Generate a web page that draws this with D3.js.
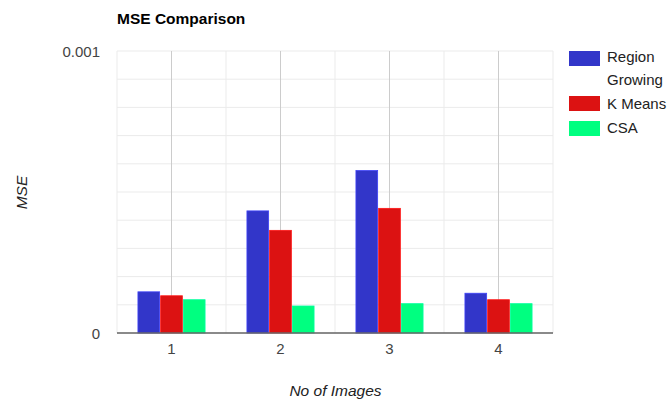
<!DOCTYPE html>
<html><head><meta charset="utf-8">
<script src="https://cdn.jsdelivr.net/npm/d3@7"></script>
<style>body{margin:0;background:#fff;} text{font-family:"Liberation Sans",Arial,sans-serif;}</style>
</head><body>
<svg id="c" width="670" height="401"></svg>
<script>
const categories = ["1","2","3","4"];
const seriesNames = ["Region Growing","K Means","CSA"];
const regionGrowing = [0.000146, 0.000433, 0.000576, 0.000141];
const kMeans = [0.000132, 0.000364, 0.000442, 0.000118];
const csa = [0.000118, 0.0000957, 0.000104, 0.000104];
const colors = ["#3236c9","#dc1212","#00ff80"];
const yTickLabels = ["0","0.001"];

const svg = d3.select("#c");
const m = {l:117, t:51, r:553, b:333};
const x = d3.scaleBand().domain(categories).range([m.l, m.r]);
const y = d3.scaleLinear().domain([0, 0.001]).range([m.b, m.t]);
const xs = d3.scaleBand().domain(seriesNames).range([0, x.bandwidth()*0.625]);
const off = (x.bandwidth() - x.bandwidth()*0.625)/2;

const g = svg.append("g");
g.selectAll("line.h").data(d3.range(0, 0.00100001, 0.0001)).join("line")
  .attr("x1", m.l).attr("x2", m.r).attr("y1", d=>y(d)).attr("y2", d=>y(d))
  .attr("stroke", "#ebebeb").attr("stroke-width", 1);
g.selectAll("line.vb").data(d3.range(0, categories.length+1)).join("line")
  .attr("x1", i=>m.l + i*x.bandwidth()).attr("x2", i=>m.l + i*x.bandwidth())
  .attr("y1", m.t).attr("y2", m.b).attr("stroke", "#ebebeb").attr("stroke-width", 1);
g.selectAll("line.vc").data(categories).join("line")
  .attr("x1", d=>x(d)+x.bandwidth()/2).attr("x2", d=>x(d)+x.bandwidth()/2)
  .attr("y1", m.t).attr("y2", m.b).attr("stroke", "#cccccc").attr("stroke-width", 1);

const series = [regionGrowing, kMeans, csa];
series.forEach((vals, si) => {
  svg.append("g").selectAll("rect").data(vals).join("rect")
    .attr("x", (d,i)=>x(categories[i]) + off + xs(seriesNames[si]) + 0.5)
    .attr("width", xs.bandwidth() - 1)
    .attr("y", d=>y(d))
    .attr("height", d=>y(0)-y(d))
    .attr("fill", colors[si])
    .attr("stroke", d3.color(colors[si]).brighter(0.6))
    .attr("stroke-width", 0.8);
});

svg.append("line").attr("x1", m.l).attr("x2", m.r).attr("y1", y(0)).attr("y2", y(0))
  .attr("stroke", "#666").attr("stroke-width", 1.5);

svg.selectAll("text.yt").data(yTickLabels).join("text")
  .attr("x", 100).attr("y", d=>y(+d)+6).attr("text-anchor","end")
  .attr("font-size", 15).attr("fill", "#444").text(d=>d);

svg.selectAll("text.xt").data(categories).join("text")
  .attr("x", d=>x(d)+x.bandwidth()/2).attr("y", 354).attr("text-anchor","middle")
  .attr("font-size", 15).attr("fill", "#444").text(d=>d);

svg.append("text").attr("x", 117).attr("y", 24).attr("font-size", 15.5).attr("font-weight","bold")
  .attr("fill","#000").text("MSE Comparison");
svg.append("text").attr("x", 335.5).attr("y", 396).attr("text-anchor","middle")
  .attr("font-size", 15.5).attr("font-style","italic").attr("fill","#222").text("No of Images");
svg.append("text").attr("transform","translate(26.5,192.5) rotate(-90)").attr("text-anchor","middle")
  .attr("font-size", 15.5).attr("font-style","italic").attr("fill","#222").text("MSE");

const legRectY = [51, 96, 121];
const legBase = [[62, 85], [109], [133]];
const legLines = [["Region","Growing"],["K Means"],["CSA"]];
seriesNames.forEach((n, i) => {
  svg.append("rect").attr("x", 569).attr("y", legRectY[i]).attr("width", 31).attr("height", 15)
    .attr("fill", colors[i]);
  legLines[i].forEach((t, j) => {
    svg.append("text").attr("x", 607).attr("y", legBase[i][j])
      .attr("font-size", 15).attr("fill", "#222").text(t);
  });
});
</script>
</body></html>
